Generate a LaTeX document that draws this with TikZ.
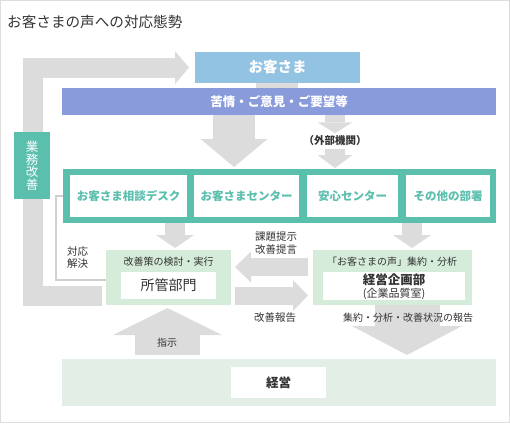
\documentclass[tikz,border=0pt]{standalone}
\usepackage{fontspec}
\setmainfont{Noto Sans CJK JP}
\usepackage{tikz}
\usetikzlibrary{arrows.meta}
\definecolor{arrowgray}{HTML}{DCDCDC}
\definecolor{tealc}{HTML}{5BBFAE}
\definecolor{custblue}{HTML}{93C3E3}
\definecolor{bandpurple}{HTML}{8A9BDC}
\definecolor{greenbox}{HTML}{D5ECDA}
\definecolor{greenband}{HTML}{E3EFE6}
\definecolor{framegray}{HTML}{DDDDDD}
\definecolor{linegray}{HTML}{CFCFCF}
\definecolor{textgray}{HTML}{333333}

\begin{document}
\begin{tikzpicture}[x=1pt,y=-1pt,
  garrow/.style n args={3}{draw=arrowgray, line width=#1, -{Triangle[width=#2,length=#3,line width=0pt]}},
  plate/.style={inner sep=0pt, outer sep=0pt},
  lbl/.style={text=textgray, font=\fontsize{10}{13}\selectfont, align=center, inner sep=0pt},
  tealbox/.style={plate, fill=white, text=tealc, font=\fontsize{11.5}{14}\selectfont\bfseries, minimum height=42pt}]
  \useasboundingbox (0,0) rectangle (510,423);
  \draw[framegray] (0.5,0.5) rectangle (509.5,422.5);
  \node[anchor=west, inner sep=0pt, text=textgray, font=\fontsize{14.6}{16}\selectfont] (title) at (7,22) {お客さまの声への対応態勢};

  % top: customers and their voices
  \node[plate, fill=custblue, minimum width=165pt, minimum height=31pt, text=white, font=\fontsize{14.5}{16}\selectfont\bfseries] (cust) at (277.5,67.5) {お客さま};
  \node[plate, fill=bandpurple, minimum width=434pt, minimum height=27pt, text=white, font=\fontsize{12.5}{15}\selectfont\bfseries] (band) at (279,101.5) {苦情・ご意見・ご要望等};
  \node[lbl, font=\fontsize{10.5}{12}\selectfont\bfseries, minimum height=15pt] (gaibu) at (335,141) {（外部機関）};

  % row of contact points
  \node[plate, fill=tealc, minimum width=433pt, minimum height=54pt] (row) at (279.5,196) {};
  \node[tealbox, minimum width=117pt] (desk) at (128.5,196) {お客さま相談デスク};
  \node[tealbox, minimum width=105pt] (ccenter) at (246.5,196) {お客さまセンター};
  \node[tealbox, minimum width=91pt] (anshin) at (352.5,196) {安心センター};
  \node[tealbox, minimum width=84pt] (others) at (448,196) {その他の部署};

  % departments
  \node[plate, fill=greenbox, minimum width=125pt, minimum height=55pt] (shokan) at (168.5,277.5) {};
  \node[lbl] (shokannote) at (168.5,262) {改善策の検討・実行};
  \node[plate, fill=white, minimum width=95pt, minimum height=27pt, text=textgray, font=\fontsize{14}{16}\selectfont] (shokanname) at (168.5,285.5) {所管部門};
  \node[plate, fill=greenbox, minimum width=159pt, minimum height=55pt] (kikaku) at (392.5,277.5) {};
  \node[lbl] (kikakunote) at (392,262) {「お客さまの声」集約・分析};
  \node[plate, fill=white, minimum width=142pt, minimum height=28pt] (kikakuname) at (394,286) {};
  \node[lbl, font=\fontsize{12.5}{14}\selectfont\bfseries] (kikakudept) at (394,280) {経営企画部};
  \node[lbl, font=\fontsize{11}{13}\selectfont] (kikakusub) at (394,293.5) {(企業品質室)};

  % management
  \node[plate, fill=greenband, minimum width=434pt, minimum height=47pt] (keieiband) at (279,382.5) {};
  \node[plate, fill=white, minimum width=95pt, minimum height=31pt, text=textgray, font=\fontsize{12.5}{14}\selectfont\bfseries] (keiei) at (278.5,382.5) {経営};

  % gray arrows
  \coordinate (xc) at (277,0);
  \coordinate (xb) at (234,0);
  \coordinate (xg) at (335,0);
  \coordinate (xd) at (175,0);
  \coordinate (xe) at (412,0);
  \coordinate (xf) at (407,0);
  \coordinate (xs) at (167.5,0);
  \coordinate (xl) at (33,0);
  \coordinate (yl) at (0,267);
  \coordinate (yr) at (0,295.5);
  \coordinate (yb) at (0,280);
  \draw[draw=arrowgray, line width=42pt] (xc |- cust.south) -- (xc |- band.north);
  \draw[garrow={42pt}{67pt}{28pt}] (xb |- band.south) -- ([yshift=2pt]xb |- row.north);
  \draw[garrow={20pt}{35pt}{11pt}] (xg |- band.south) -- (gaibu.north);
  \draw[garrow={20pt}{35pt}{13pt}] (gaibu.south) -- ([yshift=1pt]xg |- row.north);
  \draw[garrow={20pt}{38pt}{13pt}] (xd |- row.south) -- ([yshift=2pt]xd |- shokan.north);
  \draw[garrow={20pt}{38pt}{13pt}] (xe |- row.south) -- ([yshift=2pt]xe |- kikaku.north);
  \draw[garrow={18pt}{31pt}{16pt}] ([xshift=-5pt]kikaku.west |- yl) -- ([xshift=4pt]shokan.east |- yl);
  \draw[garrow={18pt}{31pt}{15pt}] ([xshift=4pt]shokan.east |- yr) -- ([xshift=-5pt]kikaku.west |- yr);
  \draw[garrow={65pt}{110pt}{29pt}] (xf |- kikaku.south) -- ([yshift=4pt]xf |- keieiband.north);
  \draw[garrow={65pt}{109pt}{27pt}] ([yshift=4pt]xs |- keieiband.north) -- ([yshift=-3pt]xs |- shokan.south);
  \draw[garrow={20pt}{33pt}{14pt}] ([xshift=-4pt]shokan.west |- yr) -| (xl |- cust.west) -- ([xshift=-6pt]cust.west);
  \draw[linegray, line width=2pt] (row.west) -- ++(-7,0) |- (shokan.west |- yb);

  \node[plate, fill=tealc, minimum width=36pt, minimum height=67pt, text=white, align=center, font=\fontsize{12.5}{12.5}\selectfont] (gyomu) at (32,165.5) {業\\務\\改\\善};

  % labels on the arrows
  \node[lbl, font=\fontsize{10.5}{12}\selectfont] (taio) at (77.5,257.5) {対応\\解決};
  \node[lbl, font=\fontsize{10.5}{13}\selectfont] (kadai) at (276,243.5) {課題提示\\改善提言};
  \node[lbl, font=\fontsize{10.5}{13}\selectfont] (hokoku) at (275,318) {改善報告};
  \node[lbl] (shuyaku) at (408,318) {集約・分析・改善状況の報告};
  \node[lbl] (shiji) at (167,343) {指示};
\end{tikzpicture}
\end{document}
